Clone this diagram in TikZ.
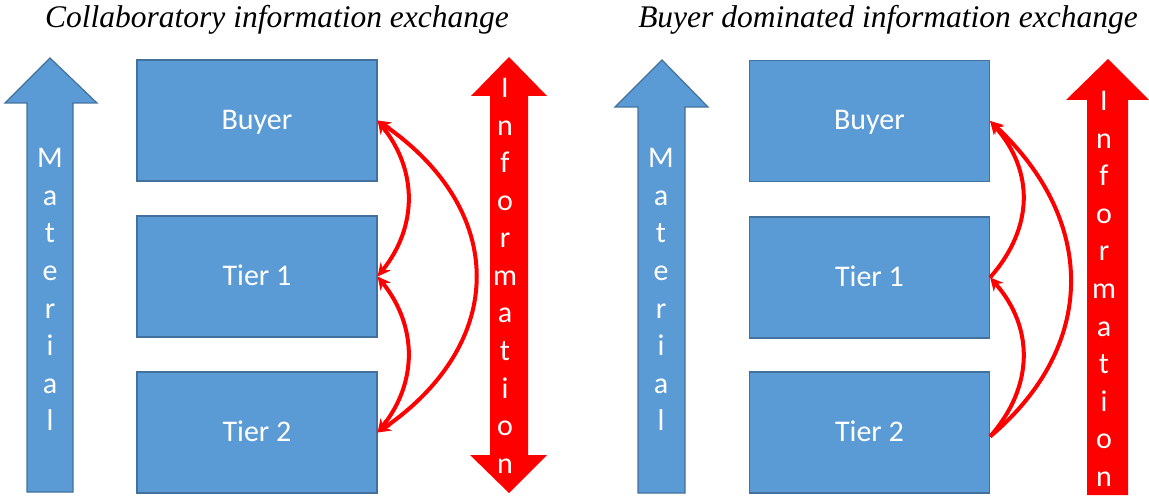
\documentclass[tikz,border=0pt]{standalone}
\usepackage{fontspec}
\setmainfont{Liberation Serif}
\newfontfamily\boxfont{Carlito}
\usetikzlibrary{arrows.meta}
\definecolor{boxblue}{HTML}{5B9BD5}
\definecolor{boxedge}{HTML}{41719C}
\definecolor{infored}{HTML}{FF0000}

\begin{document}
\begin{tikzpicture}[x=1pt,y=-1pt,
  tierbox/.style={draw=boxedge, line width=1.2pt, fill=boxblue,
    minimum width=240pt, minimum height=121pt, inner sep=0pt,
    font=\boxfont\fontsize{30}{30}\selectfont, text=white,
    text height=21pt, text depth=3pt},
  letter/.style={font=\boxfont\fontsize{30}{30}\selectfont, text=white,
    anchor=base, inner sep=0pt},
  title/.style={font=\itshape\fontsize{31.5}{31.5}\selectfont, anchor=base, inner sep=0pt},
  material/.style={fill=boxblue, draw=boxedge, line width=1.2pt},
  flow/.style={infored, line width=4pt, -{Stealth[length=13pt,width=13pt]}},
  twoway/.style={infored, line width=4pt,
    {Stealth[length=13pt,width=13pt]}-{Stealth[length=13pt,width=13pt]}},
]
\useasboundingbox (0,0) rectangle (1149,497);

% ---------- titles ----------
\node[title] (titleL) at (277,28) {Collaboratory information exchange};
\node[title] (titleR) at (888,28) {Buyer dominated information exchange};

% ---------- left panel: collaboratory ----------
% material flow (upwards)
\path[material] (27,492) -- (27,103) -- (5,103) -- (50,58) -- (97,103)
  -- (73,103) -- (73,492) -- cycle;
\foreach \c [count=\i from 0] in {M,a,t,e,r,i,a,l}
  \node[letter] (matL\i) at (50,168+37.5*\i) {\c};

% information flow (both ways)
\fill[infored] (490,455) -- (490,96) -- (471,96) -- (509,57) -- (547,96)
  -- (528,96) -- (528,455) -- (547,455) -- (509,493) -- (470,455) -- cycle;
\foreach \c [count=\i from 0] in {I,n,f,o,r,m,a,t,i,o,n}
  \node[letter] (infL\i) at (505,98+37.5*\i) {\c};

% supply chain tiers
\node[tierbox] (buyerL) at (257,120.5) {Buyer};
\node[tierbox] (tierAL) at (257,276.5) {Tier 1};
\node[tierbox] (tierBL) at (257,432.5) {Tier 2};

\draw[twoway] (tierAL.east) .. controls +(40,-50) and +(40,50) .. (buyerL.east);
\draw[twoway] (tierBL.east) .. controls +(40,-50) and +(40,50) .. (tierAL.east);
\draw[twoway] (tierBL.east) .. controls +(130,-90) and +(130,90) .. (buyerL.east);

% ---------- right panel: buyer dominated ----------
\path[material] (638,493) -- (638,107) -- (615,107) -- (662,60) -- (708,107)
  -- (685,107) -- (685,493) -- cycle;
\foreach \c [count=\i from 0] in {M,a,t,e,r,i,a,l}
  \node[letter] (matR\i) at (661,168+37.5*\i) {\c};

% information flow (upwards only)
\fill[infored] (1087,495) -- (1087,100) -- (1066,100) -- (1108,59)
  -- (1149,100) -- (1128,100) -- (1128,495) -- cycle;
\foreach \c [count=\i from 0] in {I,n,f,o,r,m,a,t,i,o,n}
  \node[letter] (infR\i) at (1104,111+37.5*\i) {\c};

\node[tierbox] (buyerR) at (869.5,121) {Buyer};
\node[tierbox] (tierAR) at (869.5,277.5) {Tier 1};
\node[tierbox] (tierBR) at (869.5,432.5) {Tier 2};

\coordinate (srcR) at ([yshift=-4pt]tierBR.east);
\draw[flow] (srcR) .. controls +(44,-50) and +(44,50) .. (tierAR.east);
\draw[flow] (tierAR.east) .. controls +(44,-50) and +(44,50) .. (buyerR.east);
\draw[flow] (srcR) .. controls +(107,-90) and +(107,100) .. (buyerR.east);
\end{tikzpicture}
\end{document}
